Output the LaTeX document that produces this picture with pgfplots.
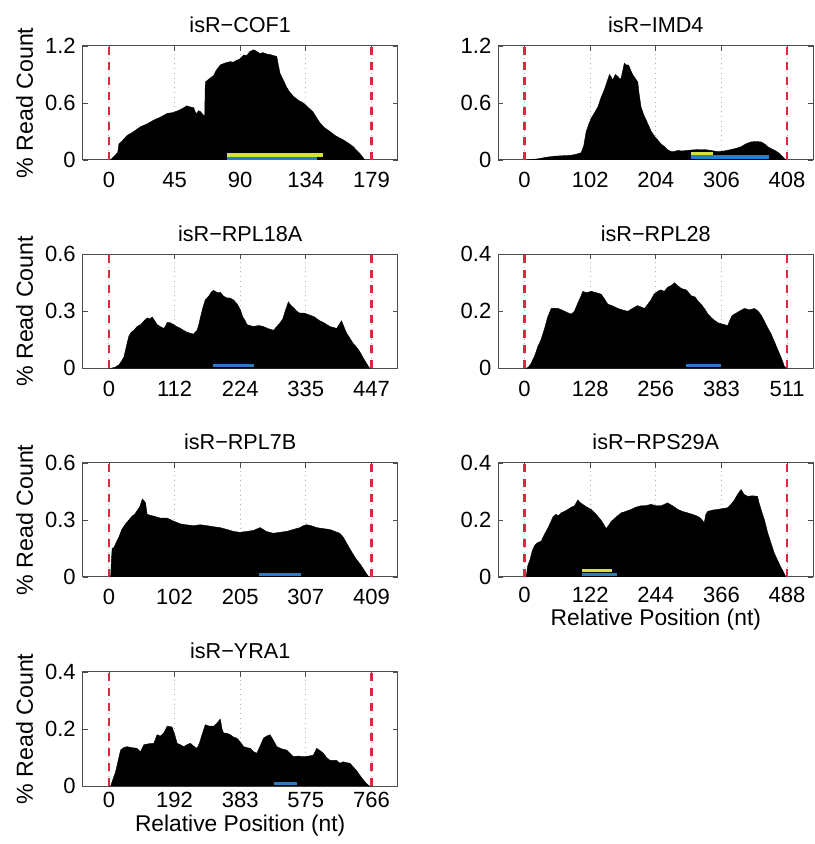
\documentclass[border=0pt]{standalone}
\usepackage{fontspec}
\setmainfont{Liberation Sans}
\usepackage{pgfplots}
\pgfplotsset{compat=1.18}

\definecolor{axgray}{HTML}{4D4D4D}
\definecolor{vline}{HTML}{DC2841}
\definecolor{ylw}{HTML}{D6E03A}
\definecolor{blu}{HTML}{2A7DC4}

\pgfplotsset{
  panel/.style={
    scale only axis, width=157.5pt, height=57pt, anchor=south west,
    axis line style={axgray, line width=0.5pt},
    tick style={axgray, line width=0.4pt},
    tick align=inside, major tick length=2.5pt, tick pos=both,
    ymin=0,
    xmajorgrids, major grid style={black!30, dotted, line width=0.5pt},
    ticklabel style={font=\fontsize{11}{13}\selectfont},
    /pgf/number format/assume math mode=true,
    every axis title/.style={font=\fontsize{10.8}{13}\selectfont, at={(0.5,1)}, anchor=base, yshift=6.5pt},
    xticklabel style={anchor=base, yshift=-14pt},
  },
  ylab/.style={ylabel={\% Read Count},
    ylabel style={font=\fontsize{11.6}{13}\selectfont, at={(axis description cs:-0.158,0.5)}, anchor=base}},
  xlab/.style={xlabel={Relative Position (nt)},
    xlabel style={font=\fontsize{11.4}{13}\selectfont, at={(axis description cs:0.5,0)}, anchor=base, yshift=-#1}},
  area/.style={fill=black, draw=black, line width=0.2pt},
  dline/.style={vline, line width=1.4pt, dash pattern=on 4pt off 3.5pt},
}

\begin{document}
\begin{tikzpicture}
\useasboundingbox (0,0) rectangle (407pt,422pt);

% isR-COF1
\begin{axis}[panel, ylab, at={(41.35pt,342pt)}, title={isR−COF1},
  xmin=-17.9, xmax=196.9, ymax=1.2,
  xtick={0,44.75,89.5,134.25,179}, xticklabels={0,45,90,134,179},
  ytick={0,0.6,1.2}, yticklabels={0,0.6,1.2}]
  \addplot[area] coordinates {(0,0) (1,0) (3,0.03) (6,0.08) (6.8,0.17) (9,0.2) (12.5,0.26) (16,0.29) (21.5,0.35) (26,0.38) (30.6,0.42) (35,0.45) (39.7,0.49) (44,0.5) (48.7,0.53) (51,0.55) (53,0.57) (55,0.56) (57.8,0.55) (59,0.5) (60,0.49) (61,0.52) (62.3,0.51) (64.6,0.47) (65.3,0.47) (65.7,0.82) (68,0.85) (71.4,0.89) (73,0.94) (75.9,1.0) (79,1.02) (82.7,1.035) (85,1.03) (87,1.05) (89,1.06) (91.8,1.105) (94,1.1) (96,1.14) (98.6,1.16) (100,1.15) (103,1.12) (105,1.13) (107.6,1.115) (110,1.11) (112,1.1) (114.4,1.09) (115.5,1.0) (116.7,0.91) (119,0.84) (121,0.77) (123,0.72) (125.8,0.67) (129,0.63) (132.6,0.60) (136,0.55) (139,0.51) (141,0.46) (143.9,0.39) (147,0.34) (150.7,0.30) (154,0.26) (157.5,0.23) (160,0.21) (162,0.19) (164,0.17) (166.6,0.14) (169,0.1) (171,0.07) (174.5,0) (179,0)} \closedcycle;
  \addplot[ylw, line width=2pt] coordinates {(80.7,0.056) (145.8,0.056)};
  \addplot[blu, line width=1.7pt] coordinates {(80.7,0.018) (141.7,0.018)};
  \addplot[dline] coordinates {(0,0) (0,1.2)};
  \addplot[dline] coordinates {(179,0) (179,1.2)};
\end{axis}

% isR-IMD4
\begin{axis}[panel, at={(249.15pt,342pt)}, title={isR−IMD4},
  xmin=-40.8, xmax=448.8, ymax=1.2,
  xtick={0,102,204,306,408}, xticklabels={0,102,204,306,408},
  ytick={0,0.6,1.2}, yticklabels={0,0.6,1.2}]
  \addplot[area] coordinates {(0,0) (10,0.005) (20.7,0.012) (35,0.03) (46.6,0.04) (60,0.045) (72.5,0.05) (80,0.06) (88,0.077) (92,0.15) (95.8,0.3) (100,0.38) (103.6,0.44) (109,0.5) (114,0.56) (119,0.66) (124,0.74) (128,0.82) (132,0.9) (135,0.87) (137,0.84) (141,0.9) (145,0.88) (148,0.85) (150,0.86) (153,0.95) (155,1.02) (158,1.0) (161.6,1.0) (164,0.96) (168,0.9) (172,0.86) (176,0.82) (178,0.7) (181,0.56) (185,0.48) (189,0.42) (193,0.36) (197,0.3) (202,0.25) (207,0.21) (212,0.17) (217.5,0.14) (222,0.11) (228,0.088) (233,0.09) (238,0.1) (245,0.095) (252,0.1) (259,0.105) (270,0.11) (280,0.11) (290,0.1) (300,0.088) (310,0.095) (321,0.11) (330,0.125) (336.6,0.14) (344,0.17) (352,0.19) (360,0.195) (367.7,0.19) (373,0.17) (378,0.14) (383,0.12) (388,0.105) (394,0.08) (398.8,0.05) (403,0.02) (406.5,0) (408,0)} \closedcycle;
  \addplot[ylw, line width=1.6pt] coordinates {(259,0.063) (293,0.063)};
  \addplot[blu, line width=2pt] coordinates {(259,0.03) (380,0.03)};
  \addplot[dline] coordinates {(0,0) (0,1.2)};
  \addplot[dline] coordinates {(408,0) (408,1.2)};
\end{axis}

% isR-RPL18A
\begin{axis}[panel, ylab, at={(41.35pt,237.85pt)}, title={isR−RPL18A},
  xmin=-44.7, xmax=491.7, ymax=0.6,
  xtick={0,111.75,223.5,335.25,447}, xticklabels={0,112,224,335,447},
  ytick={0,0.3,0.6}, yticklabels={0,0.3,0.6}]
  \addplot[area] coordinates {(0,0) (2.8,0) (10,0.005) (17,0.018) (22,0.04) (25.5,0.06) (30,0.12) (34,0.17) (38,0.19) (42.4,0.2) (48,0.22) (53.8,0.23) (60,0.25) (65,0.265) (70,0.26) (73.6,0.27) (78,0.25) (82,0.23) (87,0.22) (93.4,0.21) (96,0.22) (99,0.24) (104,0.24) (110,0.23) (115,0.22) (121.7,0.21) (127,0.2) (133,0.19) (138,0.185) (144,0.18) (147,0.19) (150,0.2) (153,0.23) (155.6,0.265) (160,0.32) (164,0.36) (170,0.38) (174,0.4) (178,0.41) (184,0.4) (189.6,0.40) (195,0.38) (201,0.37) (206,0.37) (212,0.36) (218,0.34) (223.5,0.31) (228,0.27) (232,0.25) (235,0.23) (240,0.225) (246,0.22) (255,0.225) (263,0.22) (270,0.21) (280,0.2) (286,0.22) (291.5,0.24) (296,0.26) (300,0.3) (305.6,0.35) (310,0.33) (314,0.32) (320,0.3) (325,0.29) (333,0.29) (342,0.28) (350,0.27) (359,0.25) (366,0.24) (376,0.22) (382,0.215) (387.6,0.21) (392,0.23) (396,0.25) (400,0.22) (404.6,0.185) (410,0.16) (416,0.13) (422,0.11) (427,0.088) (432,0.06) (438.6,0.026) (444,0) (447,0)} \closedcycle;
  \addplot[blu, line width=1.7pt] coordinates {(178,0.014) (247,0.014)};
  \addplot[dline] coordinates {(0,0) (0,0.6)};
  \addplot[dline] coordinates {(447,0) (447,0.6)};
\end{axis}

% isR-RPL28
\begin{axis}[panel, at={(249.15pt,237.85pt)}, title={isR−RPL28},
  xmin=-51.1, xmax=562.1, ymax=0.4,
  xtick={0,127.75,255.5,383.25,511}, xticklabels={0,128,256,383,511},
  ytick={0,0.2,0.4}, yticklabels={0,0.2,0.4}]
  \addplot[area] coordinates {(0,0) (3,0) (8,0.005) (13,0.018) (20,0.045) (26,0.077) (32,0.1) (39,0.14) (45,0.18) (52,0.21) (58,0.21) (65,0.21) (72,0.205) (78,0.2) (84,0.195) (91,0.19) (97,0.2) (104,0.23) (109,0.25) (113.5,0.27) (120,0.265) (130,0.27) (140,0.265) (149,0.26) (155,0.245) (162,0.225) (170,0.22) (181.6,0.21) (190,0.205) (201,0.2) (210,0.21) (220,0.22) (227,0.215) (233.5,0.21) (240,0.225) (246,0.24) (252,0.26) (259,0.27) (265,0.275) (272,0.27) (279,0.285) (285,0.29) (292,0.30) (298,0.29) (305,0.28) (315,0.275) (324,0.255) (332,0.25) (338,0.235) (343.7,0.225) (350,0.21) (357,0.19) (365,0.175) (376,0.16) (385,0.155) (395.6,0.15) (400,0.17) (404,0.185) (408.5,0.19) (418,0.2) (428,0.21) (438,0.205) (447.5,0.21) (455,0.2) (461,0.185) (467,0.165) (474,0.14) (480,0.12) (486,0.095) (493,0.065) (500,0.035) (506,0.006) (511,0)} \closedcycle;
  \addplot[blu, line width=1.7pt] coordinates {(315,0.009) (383,0.009)};
  \addplot[dline] coordinates {(0,0) (0,0.4)};
  \addplot[dline] coordinates {(511,0) (511,0.4)};
\end{axis}

% isR-RPL7B
\begin{axis}[panel, ylab, at={(41.35pt,133.5pt)}, title={isR−RPL7B},
  xmin=-40.9, xmax=449.9, ymax=0.6,
  xtick={0,102.25,204.5,306.75,409}, xticklabels={0,102,205,307,409},
  ytick={0,0.3,0.6}, yticklabels={0,0.3,0.6}]
  \addplot[area] coordinates {(0,0) (2.6,0) (4,0.1) (5,0.15) (7.8,0.155) (11,0.18) (15.5,0.21) (20,0.25) (26,0.28) (31,0.3) (36,0.32) (40,0.33) (44,0.35) (48,0.37) (52,0.41) (55,0.4) (57,0.39) (59.5,0.33) (64,0.325) (70,0.32) (80,0.31) (90.6,0.31) (100,0.295) (111,0.28) (120,0.275) (132,0.27) (142,0.275) (152.7,0.27) (162,0.265) (173,0.26) (184,0.25) (194,0.24) (204,0.235) (214.8,0.24) (225,0.245) (235.5,0.26) (245,0.24) (256,0.23) (266,0.235) (277,0.24) (287,0.25) (297.6,0.26) (303,0.27) (308,0.275) (315,0.27) (323.5,0.26) (333,0.255) (344,0.25) (352,0.24) (359.7,0.23) (365,0.21) (370,0.18) (375,0.15) (380.4,0.12) (385,0.095) (391,0.07) (396,0.045) (401,0.018) (405,0) (409,0)} \closedcycle;
  \addplot[blu, line width=1.7pt] coordinates {(234,0.0126) (299,0.0126)};
  \addplot[dline] coordinates {(0,0) (0,0.6)};
  \addplot[dline] coordinates {(409,0) (409,0.6)};
\end{axis}

% isR-RPS29A
\begin{axis}[panel, xlab=24.5pt, at={(249.15pt,133.5pt)}, title={isR−RPS29A},
  xticklabel style={yshift=1pt},
  xmin=-48.8, xmax=536.8, ymax=0.4,
  xtick={0,122,244,366,488}, xticklabels={0,122,244,366,488},
  ytick={0,0.2,0.4}, yticklabels={0,0.2,0.4}]
  \addplot[area] coordinates {(0,0) (3,0) (6,0.04) (10,0.06) (14,0.09) (18.6,0.11) (24,0.12) (31,0.126) (37,0.15) (43,0.17) (48,0.19) (52.6,0.21) (58,0.22) (63,0.215) (68,0.225) (74,0.23) (80.5,0.237) (87,0.245) (93,0.25) (99,0.27) (104,0.26) (108,0.255) (116,0.245) (124,0.237) (133,0.22) (142,0.2) (147,0.185) (151.7,0.17) (156,0.18) (161,0.195) (170,0.21) (179.6,0.225) (188,0.23) (198,0.237) (207,0.245) (216.7,0.25) (225,0.25) (235,0.255) (244,0.25) (254,0.25) (260,0.255) (266,0.26) (275,0.25) (285,0.237) (294,0.23) (303,0.225) (312,0.22) (321.7,0.213) (328,0.205) (334,0.19) (337,0.22) (340.6,0.23) (350,0.235) (359,0.237) (368,0.24) (377.7,0.243) (384,0.255) (390,0.27) (396,0.29) (402.5,0.307) (408,0.29) (415,0.283) (424,0.285) (433,0.283) (436,0.26) (439.6,0.237) (446,0.2) (452,0.155) (458,0.12) (464,0.085) (470,0.06) (477,0.033) (482,0.015) (486,0) (488,0)} \closedcycle;
  \addplot[ylw, line width=1.8pt] coordinates {(106,0.0225) (163,0.0225)};
  \addplot[blu, line width=1.6pt] coordinates {(106,0.0095) (171,0.0095)};
  \addplot[dline] coordinates {(0,0) (0,0.4)};
  \addplot[dline] coordinates {(488,0) (488,0.4)};
\end{axis}

% isR-YRA1
\begin{axis}[panel, ylab, xlab=22.5pt, at={(41.35pt,29pt)}, title={isR−YRA1},
  xticklabel style={yshift=3.5pt},
  xmin=-76.6, xmax=842.6, ymax=0.4,
  xtick={0,191.5,383,574.5,766}, xticklabels={0,192,383,575,766},
  ytick={0,0.2,0.4}, yticklabels={0,0.2,0.4}]
  \addplot[area] coordinates {(0,0) (5,0) (12,0.025) (19.4,0.05) (27,0.09) (34,0.126) (43,0.135) (53,0.138) (65,0.135) (82,0.132) (92,0.12) (102,0.145) (115,0.148) (131,0.15) (140.6,0.18) (150,0.175) (160,0.186) (170,0.21) (184,0.207) (192,0.18) (199,0.15) (208,0.145) (218,0.138) (228,0.145) (237.6,0.15) (247,0.14) (257,0.132) (264,0.15) (271.6,0.18) (281,0.215) (293,0.21) (305.5,0.21) (315,0.22) (325,0.235) (330,0.2) (334.6,0.186) (344,0.185) (354,0.18) (363,0.172) (373,0.168) (383,0.155) (393,0.138) (402,0.135) (412,0.132) (422,0.12) (431.6,0.115) (441,0.14) (451,0.168) (460,0.175) (470,0.18) (480,0.16) (490,0.138) (505,0.13) (519,0.126) (528,0.115) (538,0.103) (552,0.105) (567,0.103) (582,0.105) (596.5,0.108) (606,0.132) (615,0.125) (625.6,0.115) (635,0.1) (645,0.09) (664,0.09) (674,0.08) (684,0.085) (693,0.082) (703,0.08) (713,0.067) (722,0.055) (732,0.038) (742,0.022) (752,0.008) (760,0) (766,0)} \closedcycle;
  \addplot[blu, line width=1.6pt] coordinates {(482,0.0095) (548,0.0095)};
  \addplot[dline] coordinates {(0,0) (0,0.4)};
  \addplot[dline] coordinates {(766,0) (766,0.4)};
\end{axis}
\end{tikzpicture}
\end{document}
